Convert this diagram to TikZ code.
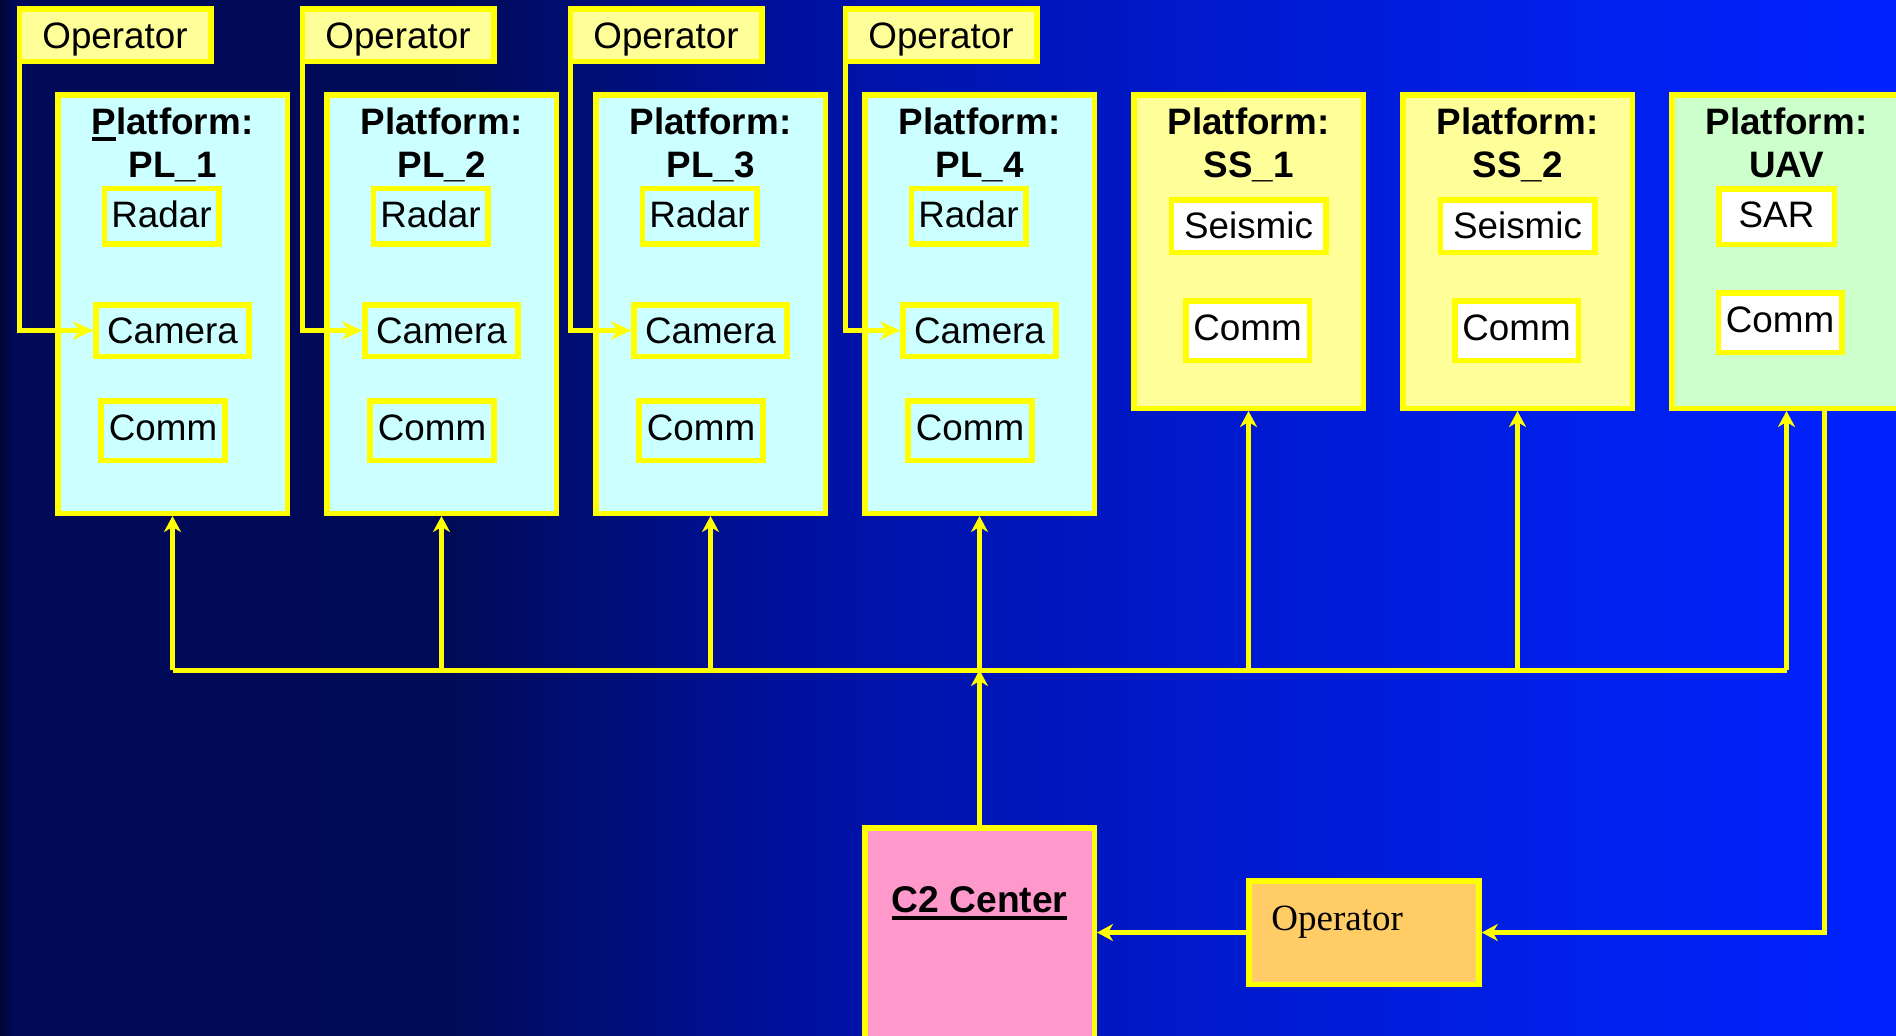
\documentclass[tikz,border=0pt]{standalone}
\usepackage{fontspec}
\setmainfont{Liberation Sans}
\newfontfamily\serifop{Liberation Serif}
\usetikzlibrary{arrows.meta}
\definecolor{ylw}{HTML}{FFFF00}
\definecolor{cyanfill}{HTML}{CCFFFF}
\definecolor{lyfill}{HTML}{FFFF99}
\definecolor{gfill}{HTML}{CCFFCC}
\definecolor{pinkfill}{HTML}{FF99CC}
\definecolor{orfill}{HTML}{FFCC66}
\definecolor{bga}{HTML}{000535}
\definecolor{bgb}{HTML}{000A58}
\definecolor{bgc}{HTML}{000B58}
\definecolor{bgd}{HTML}{0011A0}
\definecolor{bge}{HTML}{0019CC}
\definecolor{bgf}{HTML}{0020EC}
\definecolor{bgg}{HTML}{0022FF}
\pgfdeclarehorizontalshading{bgshade}{100bp}{color(0bp)=(bga); color(25bp)=(bga); color(25.4bp)=(bgb); color(30bp)=(bgb); color(37bp)=(bgc); color(46bp)=(bgd); color(56.6bp)=(bge); color(67bp)=(bgf); color(75bp)=(bgg); color(100bp)=(bgg)}
\newcommand\myul[1]{\setbox0=\hbox{#1}\rlap{\rule[-3.4pt]{\wd0}{1.7pt}}\box0}
\tikzset{
  bx/.style={draw=ylw, line width=2.75pt, inner sep=0pt},
  txt/.style={font=\fontsize{18.4}{21.7}\selectfont, text=black},
  opbox/.style={bx, txt, fill=lyfill, minimum width=95.75pt, minimum height=26.25pt, text height=13.2pt, text depth=0pt},
  plat/.style={bx, fill=cyanfill, minimum width=114.75pt, minimum height=209.25pt},
  ssplat/.style={bx, fill=lyfill, minimum width=114.75pt, minimum height=156.75pt},
  uavplat/.style={bx, fill=gfill, minimum width=114.75pt, minimum height=156.75pt},
  ptitle/.style={txt, font=\fontsize{18.4}{21.7}\selectfont\bfseries, align=center, anchor=north, inner sep=0pt},
  sub/.style={bx, txt, text height=13.2pt, text depth=0.4pt},
  radarbox/.style={sub, text depth=1.6pt, minimum width=57.25pt, minimum height=27.75pt},
  camerabox/.style={sub, minimum width=76.5pt, minimum height=25.75pt},
  commbox/.style={sub, text depth=3.6pt, minimum width=62pt, minimum height=29.75pt},
  seisbox/.style={sub, fill=white, minimum width=77.25pt, minimum height=26.25pt},
  sscommbox/.style={sub, text depth=3.6pt, fill=white, minimum width=61.75pt, minimum height=29.75pt},
  sarbox/.style={sub, text depth=2.4pt, fill=white, minimum width=57.75pt, minimum height=27.75pt},
  conn/.style={draw=ylw, line width=2.5pt},
  arr/.style={conn, -{Stealth[length=8pt, width=8.5pt, inset=2.5pt]}},
  camarr/.style={conn, -{Stealth[length=10pt, width=9pt, inset=3pt]}}
}
\begin{document}
\begin{tikzpicture}[x=0.5pt, y=-0.5pt]
\useasboundingbox (0,0) rectangle (1896,1035);
\clip (0,0) rectangle (1896,1035);
\shade[shading=bgshade] (0,0) rectangle (1896,1035);

% operators (top)
\node[opbox] (op1) at (115,35) {Operator};
\node[opbox] (op2) at (398,35) {Operator};
\node[opbox] (op3) at (666,35) {Operator};
\node[opbox] (op4) at (941,35) {Operator};

% platforms
\node[plat] (pl1) at (172.5,304) {};
\node[plat] (pl2) at (441.5,304) {};
\node[plat] (pl3) at (710.5,304) {};
\node[plat] (pl4) at (979.5,304) {};
\node[ssplat] (ss1) at (1248.5,251.5) {};
\node[ssplat] (ss2) at (1517.5,251.5) {};
\node[uavplat] (uav) at (1786.5,251.5) {};

% titles
\node[ptitle] (pl1t) at (172.5,107) {\myul{P}latform:\\PL\_1};
\node[ptitle] (pl2t) at (441.5,107) {Platform:\\PL\_2};
\node[ptitle] (pl3t) at (710.5,107) {Platform:\\PL\_3};
\node[ptitle] (pl4t) at (979.5,107) {Platform:\\PL\_4};
\node[ptitle] (ss1t) at (1248.5,107) {Platform:\\SS\_1};
\node[ptitle] (ss2t) at (1517.5,107) {Platform:\\SS\_2};
\node[ptitle] (uavt) at (1786.5,107) {Platform:\\UAV};

% inner boxes PL
\node[radarbox] (pl1r) at (161.5,216) {Radar};
\node[camerabox] (pl1c) at (172.5,330.5) {Camera};
\node[commbox] (pl1m) at (163,430.5) {Comm};
\node[radarbox] (pl2r) at (430.5,216) {Radar};
\node[camerabox] (pl2c) at (441.5,330.5) {Camera};
\node[commbox] (pl2m) at (432,430.5) {Comm};
\node[radarbox] (pl3r) at (699.5,216) {Radar};
\node[camerabox] (pl3c) at (710.5,330.5) {Camera};
\node[commbox] (pl3m) at (701,430.5) {Comm};
\node[radarbox] (pl4r) at (968.5,216) {Radar};
\node[camerabox] (pl4c) at (979.5,330.5) {Camera};
\node[commbox] (pl4m) at (970,430.5) {Comm};
% SS / UAV
\node[seisbox] (ss1s) at (1248.5,226) {Seismic};
\node[sscommbox] (ss1m) at (1247.5,330.5) {Comm};
\node[seisbox] (ss2s) at (1517.5,226) {Seismic};
\node[sscommbox] (ss2m) at (1516.5,330.5) {Comm};
\node[sarbox] (uavs) at (1776.5,216.5) {SAR};
\node[sscommbox] (uavm) at (1780,322.5) {Comm};

% operator -> camera
\draw[camarr] ([xshift=1.25pt]op1.south west) |- (pl1c.west);
\draw[camarr] ([xshift=1.25pt]op2.south west) |- (pl2c.west);
\draw[camarr] ([xshift=1.25pt]op3.south west) |- (pl3c.west);
\draw[camarr] ([xshift=1.25pt]op4.south west) |- (pl4c.west);

% C2 center and bottom operator
\node[bx, fill=pinkfill, minimum width=114.75pt, minimum height=114.75pt] (c2) at (979.5,942.5) {};
\node[txt, font=\fontsize{18.6}{22}\selectfont\bfseries, anchor=base, inner sep=0pt] (c2t) at (979.5,912.7) {\myul{C2 Center}};
\node[bx, fill=orfill, minimum width=115pt, minimum height=51.75pt] (opb) at (1364,932.5) {};
\node[anchor=base west, inner sep=0pt, font=\serifop\fontsize{18.5}{22}\selectfont] (opbt) at (1271,930) {Operator};

% bus
\coordinate (busl) at (172.5,670);
\coordinate (busr) at (1786.5,670);
\draw[conn] (busl) -- (busr);
\draw[arr] (pl1.south |- busl) -- (pl1.south);
\draw[arr] (pl2.south |- busl) -- (pl2.south);
\draw[arr] (pl3.south |- busl) -- (pl3.south);
\draw[arr] (pl4.south |- busl) -- (pl4.south);
\draw[arr] (ss1.south |- busl) -- (ss1.south);
\draw[arr] (ss2.south |- busl) -- (ss2.south);
\draw[arr] (uav.south |- busl) -- (uav.south);
\draw[arr] (c2.north) -- (c2.north |- busl);

% bottom connectors
\draw[arr] (opb.west) -- (opb.west -| c2.east);
\draw[arr] ([xshift=19pt]uav.south) |- (opb.east);
\end{tikzpicture}
\end{document}
